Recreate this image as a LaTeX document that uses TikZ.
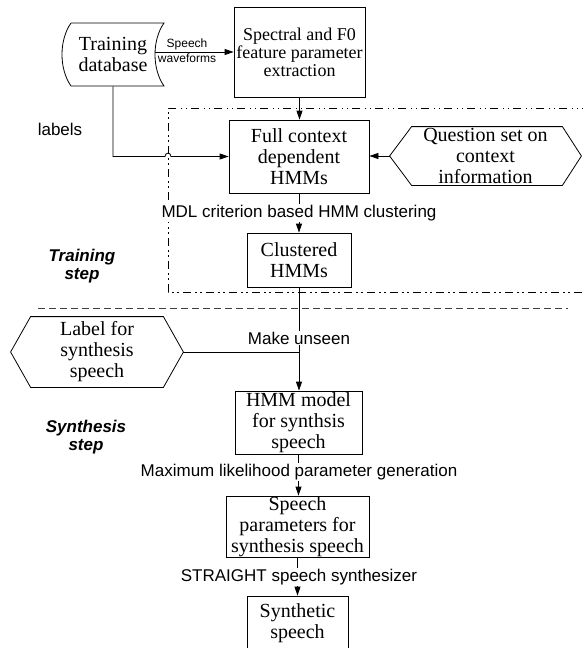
\documentclass[tikz,border=0pt]{standalone}
\usepackage{fontspec}
\setmainfont{Liberation Serif}
\setsansfont{Liberation Sans}
\usetikzlibrary{arrows.meta,calc}
\begin{document}
\begin{tikzpicture}[x=1pt,y=-1pt,
  line width=0.8pt,
  box/.style={draw, rectangle, inner sep=0pt, align=center, font=\fontsize{20}{21}\selectfont},
  plain/.style={inner sep=0pt, align=center, font=\fontsize{20}{21}\selectfont},
  lbl/.style={font=\sffamily\fontsize{17}{17}\selectfont, fill=white, inner sep=1pt},
  small/.style={font=\sffamily\fontsize{12}{12}\selectfont, inner sep=0pt},
  steplbl/.style={font=\sffamily\bfseries\itshape\fontsize{17}{18}\selectfont, align=center},
  arr/.style={-{Triangle[length=9pt,width=6pt]}},
  frame/.style={dash pattern=on 8pt off 4pt on 1.5pt off 3.5pt on 1.5pt off 4.5pt},
  sep/.style={dash pattern=on 7pt off 4pt, draw=black!75}]
\useasboundingbox (0,0) rectangle (583,648);

% training database (stored data shape)
\draw (71,23) -- (164,23) .. controls (152,40) and (152,69) .. (164,86) -- (71,86) .. controls (59,69) and (59,40) .. (71,23);
\node[plain, minimum width=84pt, minimum height=63pt] (db) at (113,54.5) {Training\\database};

% boxes
\node[box, font=\fontsize{18}{18}\selectfont, minimum width=131pt, minimum height=90pt] (spec) at (299.5,52) {Spectral and F0\\feature parameter\\extraction};
\node[box, minimum width=140pt, minimum height=73pt] (full) at (299,156.5) {Full context\\dependent\\HMMs};
\node[box, minimum width=104pt, minimum height=54pt] (clus) at (299,260) {Clustered\\HMMs};
\node[box, minimum width=127pt, minimum height=63pt] (hmm) at (298.5,422.5) {HMM model\\for synthsis\\speech};
\node[box, minimum width=143pt, minimum height=61pt] (par) at (297.5,526.5) {Speech\\parameters for\\synthesis speech};
\node[box, minimum width=101pt, minimum height=54pt] (syn) at (297.5,623) {Synthetic\\speech};

% hexagons
\node[plain, minimum width=191pt, minimum height=58pt] (ques) at (485.5,156) {Question set on\\context\\information};
\draw (ques.west) -- ([xshift=22pt]ques.north west) -- ([xshift=-19pt]ques.north east) -- (ques.east) -- ([xshift=-19pt]ques.south east) -- ([xshift=22pt]ques.south west) -- cycle;
\node[plain, minimum width=172pt, minimum height=70pt] (lab) at (97,352) {Label for\\synthesis\\speech};
\draw (lab.west) -- ([xshift=20pt]lab.north west) -- ([xshift=-20pt]lab.north east) -- (lab.east) -- ([xshift=-20pt]lab.south east) -- ([xshift=20pt]lab.south west) -- cycle;

% training frame and separator
\coordinate (fTL) at (168,108);
\coordinate (fBL) at (168,292);
\coordinate (fTR) at (590,108);
\coordinate (fBR) at (590,292);
\draw[frame] (fTR) -- (fTL) -- (fBL) -- (fBR);
\coordinate (sepL) at (38,308);
\coordinate (sepR) at (568,308);
\draw[sep] (sepL) -- (sepR);

% connectors
\draw[arr] (db.east |- spec.west) -- (spec.west);
\node[small] at (187,44) {Speech};
\node[small] at (187,58.5) {waveforms};
\draw[arr] (spec.south) -- (spec.south |- full.north);
\draw[arr] (ques.west) -- (ques.west -| full.east);
\draw[arr] (db.south) -- (db.south |- full.west) -- ([xshift=-3pt]fTL |- full.west)
  .. controls +(0,-4.5) and +(0,-4.5) .. ([xshift=3pt]fTL |- full.west) -- (full.west);
\node[font=\sffamily\fontsize{17}{17}\selectfont] at (60,129) {labels};

\draw[arr] (full.south) -- (full.south |- clus.north);
\node[lbl] at (299,213) {MDL criterion based HMM clustering};

\draw[arr] (clus.south) -- (clus.south |- hmm.north);
\draw (lab.east) -- (lab.east -| clus.south);
\node[lbl] at (299,338) {Make unseen};

\draw[arr] (hmm.south) -- (hmm.south |- par.north);
\node[lbl] at (299,472) {Maximum likelihood parameter generation};

\draw[arr] (par.south) -- (par.south |- syn.north);
\node[lbl] at (299,577) {STRAIGHT speech synthesizer};

\node[steplbl] at (82,266) {Training\\step};
\node[steplbl] at (86,437) {Synthesis\\step};
\end{tikzpicture}
\end{document}
